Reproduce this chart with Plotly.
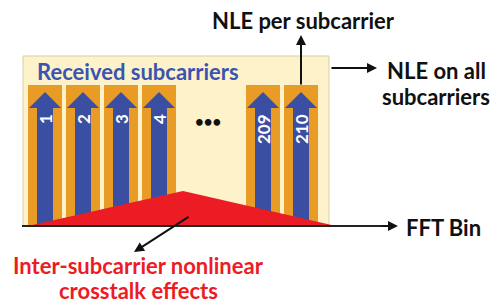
import plotly.graph_objects as go

# ---- data ----
subcarrier_labels = ["1", "2", "3", "4", "209", "210"]
box_title = "Received subcarriers"
top_label = "NLE per subcarrier"
side_label = ["NLE on all", "subcarriers"]
axis_label = "FFT Bin"
crosstalk_label = ["Inter-subcarrier nonlinear", "crosstalk effects"]

# ---- styles / layout constants (pixel space) ----
W, H = 493, 303
BEIGE = "#fdf2c9"
ORANGE = "#e89b25"
BLUE = "#3a4fa2"
RED = "#ec1c24"
FONT = "Lato"

base_y = 226
box = dict(x0=23, x1=329, y0=56, y1=base_y)
bar_w = 34
bar_top = 85
left_start, right_start, pitch = 28, 246, 38
lefts = [left_start + i * pitch for i in range(4)] + [right_start + i * pitch for i in range(2)]

shapes = []
annotations = []

# beige box
shapes.append(dict(type="rect", xref="x", yref="y", **box, fillcolor=BEIGE,
                   line=dict(color="#d9cfa6", width=1), layer="above"))

for lab, x0 in zip(subcarrier_labels, lefts):
    cx = x0 + bar_w / 2
    # orange bar
    shapes.append(dict(type="rect", xref="x", yref="y", x0=x0, x1=x0 + bar_w, y0=bar_top, y1=base_y,
                       fillcolor=ORANGE, line=dict(width=0), layer="above"))
    # blue shaft
    shapes.append(dict(type="rect", xref="x", yref="y", x0=cx - 8, x1=cx + 8, y0=107, y1=base_y,
                       fillcolor=BLUE, line=dict(width=0), layer="above"))
    # blue arrow head
    shapes.append(dict(type="path", xref="x", yref="y",
                       path=f"M {x0+1},108 L {cx},92 L {x0+bar_w-1},108 Z",
                       fillcolor=BLUE, line=dict(width=0), layer="above"))
    annotations.append(dict(x=cx, y=112, xref="x", yref="y", text=f"<b>{lab}</b>", showarrow=False,
                            textangle=-90, xanchor="center", yanchor="top",
                            font=dict(family=FONT, size=17, color="white")))

# red triangle (crosstalk)
shapes.append(dict(type="path", xref="x", yref="y",
                   path=f"M 28,{base_y} L 183,191 L 336,{base_y} Z",
                   fillcolor=RED, line=dict(width=0), layer="above"))
# baseline
shapes.append(dict(type="line", xref="x", yref="y", x0=22, x1=392, y0=base_y, y1=base_y,
                   line=dict(color="#222", width=2), layer="above"))

def arrow(x0, y0, x1, y1):
    annotations.append(dict(x=x1, y=y1, ax=x0, ay=y0, xref="x", yref="y", axref="x", ayref="y",
                            text="", showarrow=True, arrowhead=2, arrowsize=1, arrowwidth=2,
                            arrowcolor="#111"))

arrow(380, base_y, 398, base_y)
arrow(301, 86, 301, 35)
arrow(330, 68, 377, 68)
arrow(190, 216, 134, 252)

def text(x, y, s, color, size, xanchor="left"):
    annotations.append(dict(x=x, y=y, xref="x", yref="y", text=f"<b>{s}</b>", showarrow=False,
                            xanchor=xanchor, yanchor="middle",
                            font=dict(family=FONT, size=size, color=color)))

text(35, 71, box_title, "#3a55b0", 22)
text(208, 121, "•••", "#111", 15, "center")
text(303, 20, top_label, "#111", 22, "center")
text(436, 70, side_label[0], "#111", 22, "center")
text(436, 96, side_label[1], "#111", 22, "center")
text(404, 227, axis_label, "#111", 22)
text(138, 265, crosstalk_label[0], RED, 22, "center")
text(138, 290, crosstalk_label[1], RED, 22, "center")

fig = go.Figure()
fig.update_layout(
    width=W, height=H, margin=dict(l=0, r=0, t=0, b=0),
    paper_bgcolor="white", plot_bgcolor="white",
    xaxis=dict(range=[0, W], visible=False, fixedrange=True),
    yaxis=dict(range=[H, 0], visible=False, fixedrange=True),
    shapes=shapes, annotations=annotations, showlegend=False,
)
fig.write_html("out.html", config={"displayModeBar": False},
               post_script="document.body.style.margin='0';document.body.style.overflow='hidden';")
